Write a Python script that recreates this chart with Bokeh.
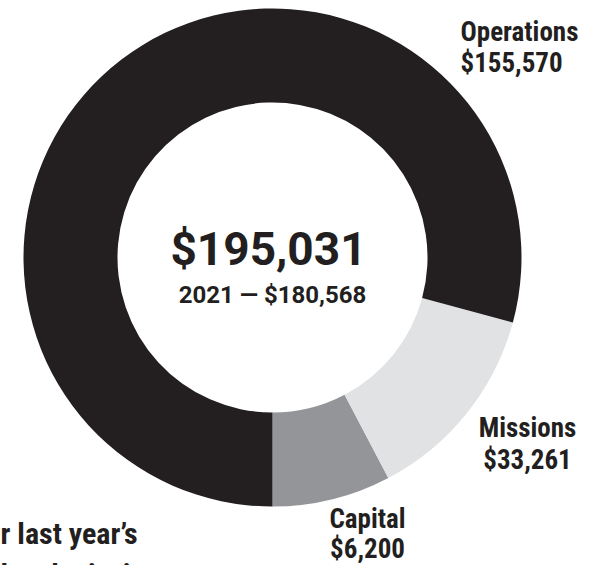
import numpy as np
from bokeh.plotting import figure
from bokeh.models import Range1d, ColumnDataSource
from bokeh.core.properties import value
from bokeh.embed import file_html
from bokeh.resources import INLINE

# ---- data ----
categories = ["Operations", "Missions", "Capital"]
amounts = [155570, 33261, 6200]
# share of the ring each slice occupies, as drawn in the picture
drawn_share = [0.792, 0.131, 0.077]
colors = ["#231f20", "#e1e2e4", "#939598"]
total = 195031
prior_year = 2021
prior_total = 180568

W, H = 587, 565
p = figure(width=W, height=H, output_backend="svg", toolbar_location=None,
           x_range=Range1d(0, 587), y_range=Range1d(8, 573), min_border=0)
p.axis.visible = False
p.grid.visible = False
p.outline_line_color = None
p.background_fill_color = "white"
p.border_fill_color = "white"

def Y(ry):
    return 573 - ry

def TY(ry, fs):
    # baseline correction for the text glyph
    return Y(ry - 0.35 * fs)

cx, cy = 272, Y(257)
r_out, r_in = 249, 155

# slices drawn anticlockwise from 6 o'clock: Capital, Missions, Operations
order = [2, 1, 0]
shares = np.array([drawn_share[i] for i in order])
ends = -np.pi / 2 + 2 * np.pi * np.cumsum(shares)
starts = np.concatenate([[-np.pi / 2], ends[:-1]])
src = ColumnDataSource(dict(start=starts, end=ends,
                            color=[colors[i] for i in order],
                            name=[categories[i] for i in order]))
p.annular_wedge(x=cx, y=cy, inner_radius=r_in, outer_radius=r_out,
                start_angle="start", end_angle="end", fill_color="color",
                line_color=None, source=src)

cond = value("'Roboto Condensed', 'Liberation Sans Narrow', 'DejaVu Sans Condensed', sans-serif")
ink = "#231f20"

LFS = 27
lab = {
    "Operations": dict(x=460, y1=41, y2=72, align="left"),
    "Missions": dict(x=527, y1=437, y2=469, align="center"),
    "Capital": dict(x=367, y1=528, y2=558, align="center"),
}
for cat, amt in zip(categories, amounts):
    L = lab[cat]
    p.text(x=[L["x"], L["x"]], y=[TY(L["y1"], LFS), TY(L["y2"], LFS)],
           text=[cat, f"${amt:,}"], text_font=cond, text_font_style="bold",
           text_font_size=f"{LFS}px", text_color=ink, text_align=L["align"],
           text_baseline="alphabetic")

# centre
p.text(x=[268], y=[TY(265, 46)], text=[f"${total:,}"], text_font=value("Roboto"),
       text_font_style="bold", text_font_size="46px", text_color=ink,
       text_align="center", text_baseline="alphabetic")
p.text(x=[272], y=[TY(303, 24)], text=[f"{prior_year} \u2014 ${prior_total:,}"],
       text_font=value("Roboto"), text_font_style="bold", text_font_size="24px",
       text_color=ink, text_align="center", text_baseline="alphabetic")

# partially visible note at bottom-left
NFS = 30
p.text(x=[0, 0], y=[TY(543, NFS), TY(584, NFS)], text=["r last year\u2019s", "l and missions"],
       text_font=cond, text_font_style="bold", text_font_size=f"{NFS}px",
       text_color=ink, text_align="left", text_baseline="alphabetic")

open("out.html", "w").write(file_html(p, INLINE))
